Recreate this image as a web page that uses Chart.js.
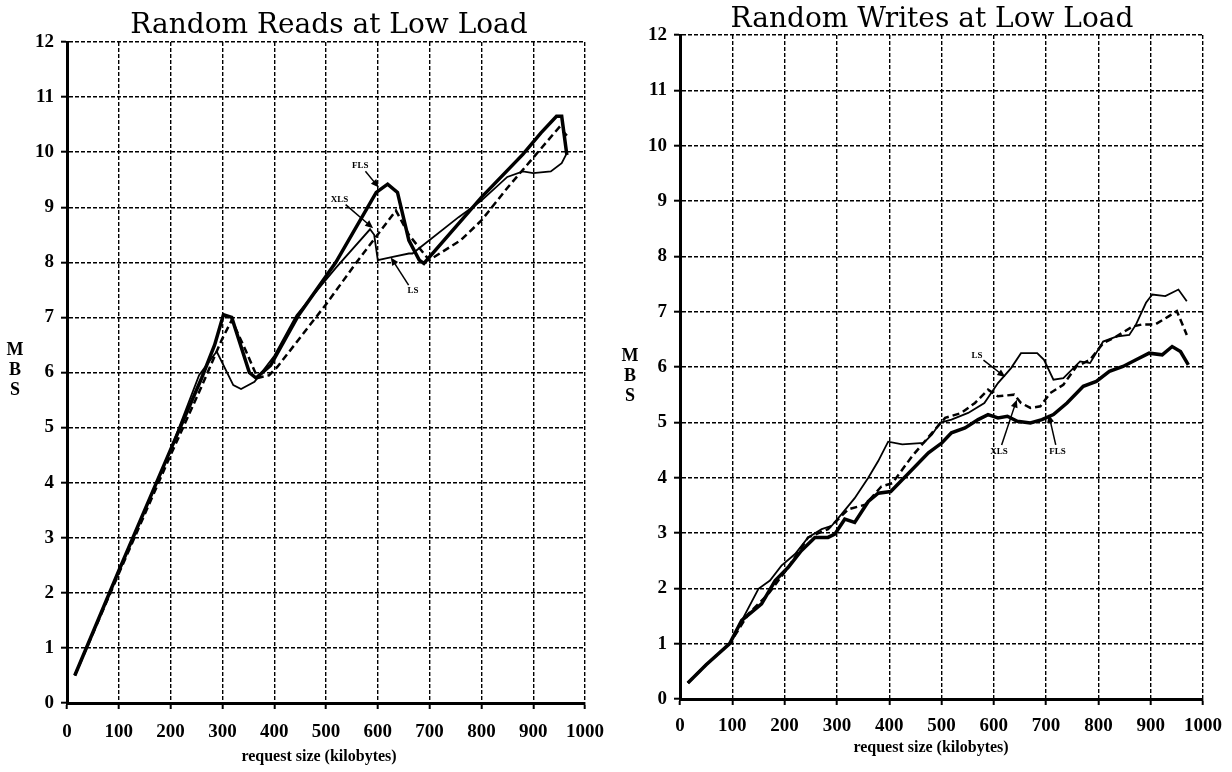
<!DOCTYPE html>
<html>
<head>
<meta charset="utf-8">
<script src="https://cdn.jsdelivr.net/npm/chart.js@4/dist/chart.umd.min.js"></script>
<style>
  body { margin: 0; background: #fff; }
  .box { position: absolute; top: 0; width: 616px; height: 772px; }
</style>
</head>
<body>
<div class="box" style="left:0"><canvas id="reads" width="616" height="772"></canvas></div>
<div class="box" style="left:616px"><canvas id="writes" width="616" height="772"></canvas></div>
<script>
// Random reads at low load (request size in KB -> MB/s)
var readsFlsX = [15, 100, 200, 260, 285, 302, 318, 352, 365, 393, 447, 519, 597, 619, 638, 660, 680, 689, 800, 880, 915, 945, 955, 965];
var readsFlsY = [0.5, 2.4, 4.6, 5.9, 6.5, 7.05, 7.0, 6.0, 5.9, 6.13, 7.04, 8.0, 9.27, 9.42, 9.27, 8.4, 8.04, 7.98, 9.18, 9.96, 10.35, 10.65, 10.65, 9.95];
var readsLsX = [15, 100, 200, 255, 289, 321, 336, 362, 400, 443, 519, 585, 593, 600, 629, 660, 667, 756, 800, 850, 880, 900, 934, 955, 966];
var readsLsY = [0.5, 2.4, 4.6, 5.95, 6.38, 5.77, 5.7, 5.83, 6.3, 7.04, 7.9, 8.6, 8.5, 8.04, 8.1, 8.16, 8.16, 8.82, 9.12, 9.55, 9.65, 9.62, 9.65, 9.8, 10.0];
var readsXlsX = [15, 100, 200, 260, 299, 318, 345, 368, 390, 406, 501, 559, 635, 660, 699, 760, 800, 850, 900, 950, 965];
var readsXlsY = [0.5, 2.35, 4.5, 5.75, 6.6, 6.95, 6.4, 5.9, 5.95, 6.1, 7.25, 8.0, 8.94, 8.5, 8.04, 8.4, 8.76, 9.35, 9.9, 10.45, 10.3];

// Random writes at low load
var writesLsX = [15, 50, 95, 150, 172, 194, 220, 245, 271, 290, 309, 334, 360, 379, 398, 425, 466, 482, 497, 519, 551, 582, 608, 633, 652, 683, 696, 714, 733, 765, 784, 809, 834, 859, 872, 891, 903, 928, 953, 969];
var writesLsY = [0.29, 0.62, 1.0, 1.99, 2.14, 2.41, 2.62, 2.92, 3.07, 3.13, 3.34, 3.63, 4.0, 4.3, 4.65, 4.6, 4.63, 4.78, 4.99, 5.05, 5.17, 5.35, 5.71, 5.98, 6.25, 6.25, 6.13, 5.77, 5.8, 6.1, 6.07, 6.46, 6.55, 6.58, 6.77, 7.16, 7.31, 7.28, 7.4, 7.19];
var writesFlsX = [15, 50, 95, 118, 156, 182, 207, 232, 258, 283, 296, 315, 334, 360, 379, 403, 431, 475, 501, 519, 545, 570, 589, 608, 626, 645, 670, 692, 714, 740, 771, 796, 821, 847, 872, 897, 922, 941, 957, 972];
var writesFlsY = [0.29, 0.62, 1.0, 1.42, 1.72, 2.14, 2.38, 2.68, 2.92, 2.92, 2.98, 3.25, 3.19, 3.57, 3.72, 3.75, 4.02, 4.45, 4.63, 4.81, 4.9, 5.05, 5.14, 5.08, 5.11, 5.02, 4.99, 5.05, 5.14, 5.35, 5.65, 5.74, 5.92, 6.01, 6.13, 6.25, 6.22, 6.37, 6.28, 6.04];
var writesXlsX = [15, 50, 95, 131, 169, 207, 245, 283, 322, 354, 385, 406, 444, 482, 507, 538, 564, 589, 608, 639, 652, 670, 689, 708, 733, 758, 784, 809, 834, 865, 884, 909, 935, 950, 969];
var writesXlsY = [0.29, 0.62, 1.0, 1.54, 1.9, 2.38, 2.92, 3.07, 3.43, 3.51, 3.84, 3.9, 4.39, 4.81, 5.08, 5.17, 5.35, 5.59, 5.47, 5.5, 5.35, 5.26, 5.29, 5.53, 5.68, 6.01, 6.13, 6.43, 6.55, 6.73, 6.77, 6.77, 6.92, 7.01, 6.58];

// axis ticks
var xTicks = [0, 100, 200, 300, 400, 500, 600, 700, 800, 900, 1000];
var yTicks = [0, 1, 2, 3, 4, 5, 6, 7, 8, 9, 10, 11, 12];

// curve labels with arrows (label spot, arrow tip) in data units
var readsNotes = [
  { text: 'FLS', x: 566, y: 9.75, tx: 602, ty: 9.36 },
  { text: 'XLS', x: 526, y: 9.13, tx: 591, ty: 8.62 },
  { text: 'LS',  x: 668, y: 7.48, tx: 625, ty: 8.09 }
];
var writesNotes = [
  { text: 'LS',  x: 568, y: 6.2,  tx: 622, ty: 5.82 },
  { text: 'XLS', x: 610, y: 4.47, tx: 644, ty: 5.41 },
  { text: 'FLS', x: 722, y: 4.47, tx: 705, ty: 5.14 }
];

function pts(xs, ys) {
  return xs.map(function (x, i) { return { x: x, y: ys[i] }; });
}

function curves(fx, fy, lx, ly, xx, xy) {
  return [
    { label: 'FLS', data: pts(fx, fy), borderColor: '#000', borderWidth: 3.5, pointRadius: 0, tension: 0 },
    { label: 'LS',  data: pts(lx, ly), borderColor: '#000', borderWidth: 1.8, pointRadius: 0, tension: 0 },
    { label: 'XLS', data: pts(xx, xy), borderColor: '#000', borderWidth: 2.5, borderDash: [7, 4], pointRadius: 0, tension: 0 }
  ];
}

// titles, axis captions, stacked "M B S" and the arrow notes
var decor = {
  id: 'decor',
  afterDraw: function (chart, args, o) {
    var ctx = chart.ctx;
    ctx.save();
    ctx.fillStyle = '#000';
    ctx.textAlign = 'center';
    ctx.textBaseline = 'alphabetic';
    ctx.font = '28px "DejaVu Serif"';
    ctx.fillText(o.title, o.titleX, o.titleY);

    ctx.textBaseline = 'middle';
    ctx.font = 'bold 16px "Liberation Serif"';
    ctx.fillText('request size (kilobytes)', o.capX, o.capY);

    ctx.font = 'bold 18px "Liberation Serif"';
    ['M', 'B', 'S'].forEach(function (ch, i) {
      ctx.fillText(ch, o.mbsX, o.mbsY + i * 20);
    });

    var xs = chart.scales.x, ys = chart.scales.y;
    ctx.font = 'bold 9px "Liberation Serif"';
    ctx.strokeStyle = '#000';
    ctx.lineWidth = 1.5;
    o.notes.forEach(function (n) {
      var px = xs.getPixelForValue(n.x), py = ys.getPixelForValue(n.y);
      var qx = xs.getPixelForValue(n.tx), qy = ys.getPixelForValue(n.ty);
      ctx.fillText(n.text, px, py);
      var dx = qx - px, dy = qy - py, len = Math.sqrt(dx * dx + dy * dy);
      var ux = dx / len, uy = dy / len;
      ctx.beginPath();
      ctx.moveTo(px + ux * 8, py + uy * 7);
      ctx.lineTo(qx - ux * 5, qy - uy * 5);
      ctx.stroke();
      ctx.beginPath();
      ctx.moveTo(qx, qy);
      ctx.lineTo(qx - ux * 8 - uy * 3.5, qy - uy * 8 + ux * 3.5);
      ctx.lineTo(qx - ux * 8 + uy * 3.5, qy - uy * 8 - ux * 3.5);
      ctx.closePath();
      ctx.fill();
    });
    ctx.restore();
  }
};

function makeChart(id, datasets, box) {
  var tickFont = { family: 'Liberation Serif', weight: 'bold', size: 19 };
  var gridStyle = {
    color: '#000', lineWidth: 1.4,
    tickLength: 6, tickColor: '#000', tickWidth: 2, tickBorderDash: []
  };
  // in Chart.js v4 border.dash sets the dash of the grid lines
  var borderStyle = { color: '#000', width: 3, dash: [4, 2] };
  return new Chart(document.getElementById(id), {
    type: 'line',
    data: { datasets: datasets },
    options: {
      responsive: false,
      animation: false,
      layout: { padding: { left: 0, right: box.padRight, top: box.padTop, bottom: 0 } },
      plugins: {
        legend: { display: false },
        tooltip: { enabled: false },
        decor: {
          title: box.title, titleX: box.titleX, titleY: box.titleY,
          capX: box.capX, capY: box.capY,
          mbsX: box.mbsX, mbsY: box.mbsY, notes: box.notes
        }
      },
      scales: {
        x: {
          type: 'linear', min: 0, max: 1000,
          afterFit: function (s) { s.height = box.xHeight; },
          afterBuildTicks: function (s) { s.ticks = xTicks.map(function (v) { return { value: v }; }); },
          ticks: {
            color: '#000', font: tickFont, padding: box.xPad, maxRotation: 0, autoSkip: false,
            callback: function (v) { return String(v); }
          },
          grid: gridStyle,
          border: borderStyle
        },
        y: {
          min: 0, max: 12,
          afterFit: function (s) { s.width = box.yWidth; },
          afterBuildTicks: function (s) { s.ticks = yTicks.map(function (v) { return { value: v }; }); },
          ticks: { color: '#000', font: tickFont, padding: 7, callback: function (v) { return String(v); } },
          grid: gridStyle,
          border: borderStyle
        }
      }
    },
    plugins: [decor]
  });
}

makeChart('reads', curves(readsFlsX, readsFlsY, readsLsX, readsLsY, readsXlsX, readsXlsY), {
  padRight: 19, padTop: 42, xHeight: 69, yWidth: 67, xPad: 12,
  title: 'Random Reads at Low Load', titleX: 329, titleY: 33,
  capX: 319, capY: 757,
  mbsX: 15, mbsY: 350, notes: readsNotes
});

makeChart('writes', curves(writesFlsX, writesFlsY, writesLsX, writesLsY, writesXlsX, writesXlsY), {
  padRight: 26, padTop: 35, xHeight: 73, yWidth: 64, xPad: 10,
  title: 'Random Writes at Low Load', titleX: 316, titleY: 27,
  capX: 315, capY: 748,
  mbsX: 14, mbsY: 356, notes: writesNotes
});
</script>
</body>
</html>
